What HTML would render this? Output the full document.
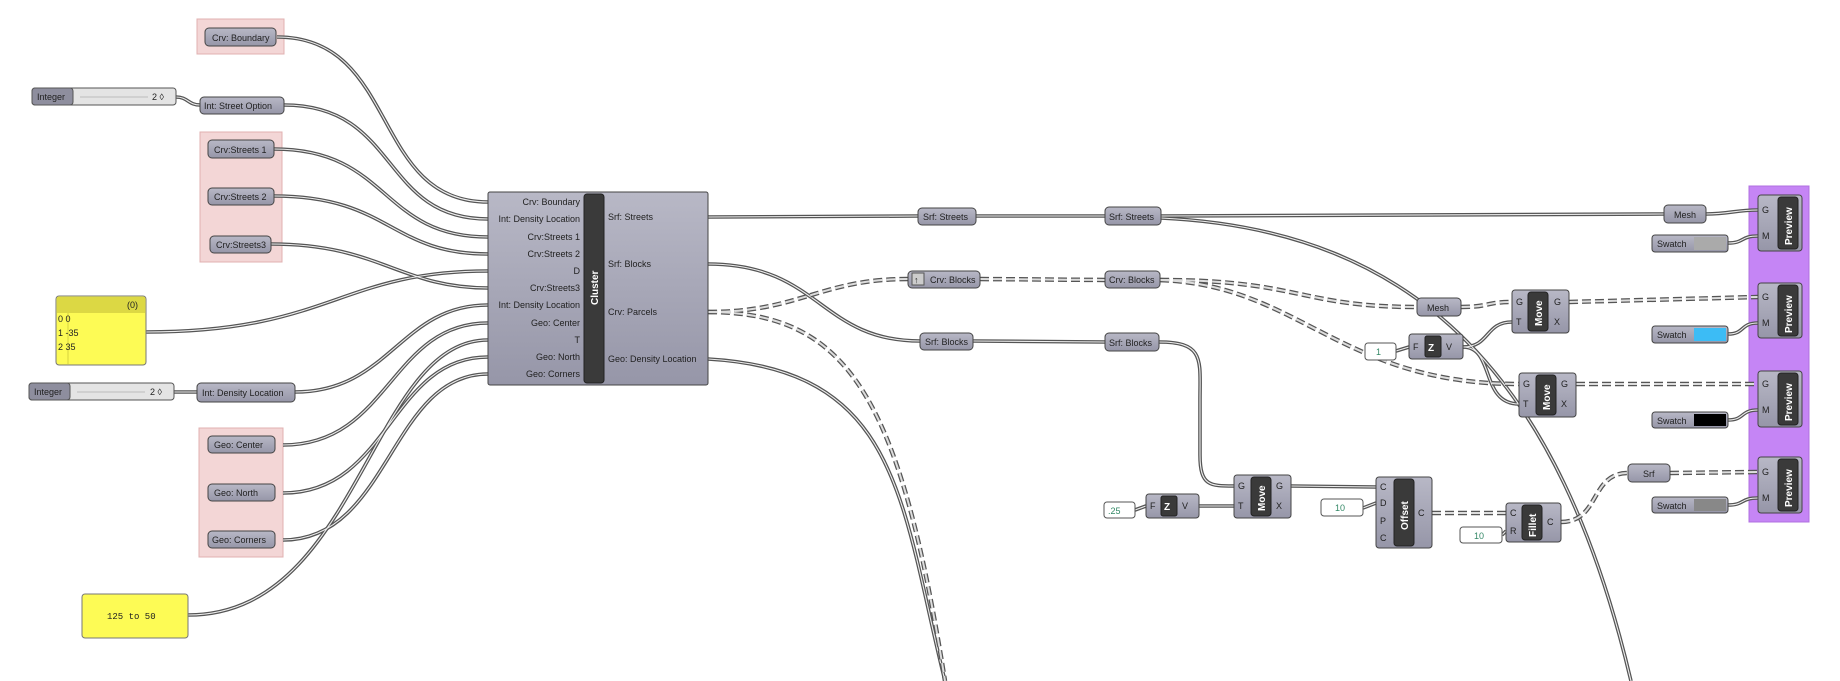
<!DOCTYPE html>
<html><head><meta charset="utf-8"><style>
html,body{margin:0;padding:0;background:#fff;}
svg{display:block;font-family:"Liberation Sans",sans-serif;}
.w{stroke:#555;stroke-width:3.6}
.wi{stroke:#eee;stroke-width:1.1}
.d{stroke:#555;stroke-width:4.5;stroke-dasharray:9 4}
.di{stroke:#ddd;stroke-width:2;stroke-dasharray:9 4}
.p{fill:url(#g);stroke:#444;stroke-width:1}
.t{font-size:9px;fill:#222}
.bar{fill:#3a3a3a;stroke:#222}
.vt{font-size:10px;font-weight:bold;fill:#fff}
</style></head><body>
<svg width="1840" height="681" viewBox="0 0 1840 681" xmlns="http://www.w3.org/2000/svg">
<defs>
<linearGradient id="g" x1="0" y1="0" x2="0" y2="1"><stop offset="0" stop-color="#b8b8c6"/><stop offset="1" stop-color="#9696a8"/></linearGradient>
<g id="solid" fill="none">
<path fill="none" d="M277 37 C400 37,370 202,488 202"/>
<path fill="none" d="M284 105 C400 105,380 219,488 219"/>
<path fill="none" d="M274 149 C390 149,380 237,488 237"/>
<path fill="none" d="M274 196 C390 196,390 254,488 254"/>
<path fill="none" d="M271 244 C380 244,400 288,488 288"/>
<path fill="none" d="M146 332 C330 332,340 271,488 271"/>
<path fill="none" d="M295 392 C390 392,400 305,488 305"/>
<path fill="none" d="M283 445 C390 445,390 323,488 323"/>
<path fill="none" d="M188 615 C360 615,370 340,488 340"/>
<path fill="none" d="M283 493 C390 493,390 357,488 357"/>
<path fill="none" d="M283 540 C390 540,390 374,488 374"/>
<path fill="none" d="M176 97 C188 97,188 105,200 105"/>
<path fill="none" d="M174 392 L197 392"/>
<path fill="none" d="M708 217 L918 216"/>
<path fill="none" d="M976 216 L1105 216"/>
<path fill="none" d="M1161 216 L1664 214"/>
<path fill="none" d="M1706 214 C1730 214,1735 210,1758 210"/>
<path fill="none" d="M1161 218 C1420 230,1560 380,1631 681"/>
<path fill="none" d="M708 264 C820 264,820 341,920 341"/>
<path fill="none" d="M973 341 L1105 342"/>
<path fill="none" d="M1159 342 C1205 342,1200 360,1200 400 L1200 455 C1200 486,1210 486,1234 486"/>
<path fill="none" d="M708 359 C900 370,900 500,945 681"/>
<path fill="none" d="M1463 347 C1490 347,1485 322,1512 322"/>
<path fill="none" d="M1463 347 C1495 347,1480 404,1519 404"/>
<path fill="none" d="M1396 351 L1409 347"/>
<path fill="none" d="M1135 510 L1146 506"/>
<path fill="none" d="M1199 506 L1234 506"/>
<path fill="none" d="M1291 486 L1376 487"/>
<path fill="none" d="M1363 508 L1376 503"/>
<path fill="none" d="M1502 535 L1506 531"/>
<path fill="none" d="M1728 243 C1745 243,1740 236,1758 236"/>
<path fill="none" d="M1728 334 C1745 334,1740 323,1758 323"/>
<path fill="none" d="M1728 420 C1745 420,1740 410,1758 410"/>
<path fill="none" d="M1728 505 C1745 505,1740 498,1758 498"/>
</g>
<g id="dash" fill="none">
<path fill="none" d="M708 312 C800 312,820 279,908 279"/>
<path fill="none" d="M708 312 C850 312,900 400,945 681"/>
<path fill="none" d="M980 279 L1105 280"/>
<path fill="none" d="M1160 280 C1300 280,1300 307,1417 307"/>
<path fill="none" d="M1160 280 C1300 285,1340 384,1519 384"/>
<path fill="none" d="M1461 307 C1490 307,1485 302,1512 302"/>
<path fill="none" d="M1569 302 L1758 297"/>
<path fill="none" d="M1576 384 L1758 384"/>
<path fill="none" d="M1432 513 L1506 513"/>
<path fill="none" d="M1561 522 C1600 522,1590 473,1628 473"/>
<path fill="none" d="M1670 473 L1758 472"/>
</g>
</defs>
<!-- groups -->
<rect x="197" y="19" width="87" height="35" fill="#f3d6d6" stroke="#e0b0b0"/>
<rect x="200" y="132" width="82" height="130" fill="#f3d6d6" stroke="#e0b0b0"/>
<rect x="199" y="428" width="84" height="129" fill="#f3d6d6" stroke="#e0b0b0"/>
<rect x="1749" y="186" width="60" height="336" fill="#c585f5" stroke="#b070e0"/>

<use href="#solid" class="w"/>
<use href="#solid" class="wi"/>
<use href="#dash" class="d"/>
<use href="#dash" class="di"/>

<!-- left params -->
<g class="t">
<rect class="p" x="205" y="28" width="71" height="18" rx="4"/><text x="212" y="41">Crv: Boundary</text>
<rect x="32" y="88" width="144" height="17" rx="3" fill="#e4e4e4" stroke="#555"/><rect x="32" y="88" width="41" height="17" rx="3" fill="#8e8e9e" stroke="#555"/><text x="37" y="100">Integer</text><text x="152" y="100">2 ◊</text>
<line x1="80" y1="97" x2="148" y2="97" stroke="#bbb"/>
<rect class="p" x="200" y="97" width="84" height="17" rx="4"/><text x="204" y="109">Int: Street Option</text>
<rect class="p" x="208" y="140" width="66" height="18" rx="4"/><text x="214" y="153">Crv:Streets 1</text>
<rect class="p" x="208" y="188" width="66" height="17" rx="4"/><text x="214" y="200">Crv:Streets 2</text>
<rect class="p" x="210" y="236" width="61" height="17" rx="4"/><text x="216" y="248">Crv:Streets3</text>
<rect x="56" y="296" width="90" height="69" rx="3" fill="#fdfb55" stroke="#777"/>
<rect x="57" y="297" width="88" height="16" fill="#dcd844"/>
<line x1="68" y1="313" x2="68" y2="364" stroke="#d6d340"/>
<text x="127" y="308">(0)</text><text x="58" y="322">0 0</text><text x="58" y="336">1 -35</text><text x="58" y="350">2 35</text>
<rect x="29" y="383" width="145" height="17" rx="3" fill="#e4e4e4" stroke="#555"/><rect x="29" y="383" width="41" height="17" rx="3" fill="#8e8e9e" stroke="#555"/><text x="34" y="395">Integer</text><text x="150" y="395">2 ◊</text>
<line x1="77" y1="392" x2="145" y2="392" stroke="#bbb"/>
<rect class="p" x="197" y="383" width="98" height="19" rx="4"/><text x="202" y="396">Int: Density Location</text>
<rect class="p" x="208" y="436" width="67" height="17" rx="4"/><text x="214" y="448">Geo: Center</text>
<rect class="p" x="208" y="484" width="67" height="17" rx="4"/><text x="214" y="496">Geo: North</text>
<rect class="p" x="208" y="531" width="67" height="17" rx="4"/><text x="212" y="543">Geo: Corners</text>
<rect x="82" y="594" width="106" height="44" rx="3" fill="#fdfb55" stroke="#777"/><text x="107" y="619" font-family="Liberation Mono,monospace">125 to 50</text>
</g>

<!-- cluster -->
<rect class="p" x="488" y="192" width="220" height="193" rx="2"/>
<rect class="bar" x="584" y="194" width="20" height="189" rx="3"/>
<text class="vt" transform="translate(598 305) rotate(-90)" font-size="11">Cluster</text>
<g class="t" text-anchor="end">
<text x="580" y="205">Crv: Boundary</text><text x="580" y="222">Int: Density Location</text>
<text x="580" y="240">Crv:Streets 1</text><text x="580" y="257">Crv:Streets 2</text>
<text x="580" y="274">D</text><text x="580" y="291">Crv:Streets3</text>
<text x="580" y="308">Int: Density Location</text><text x="580" y="326">Geo: Center</text>
<text x="580" y="343">T</text><text x="580" y="360">Geo: North</text><text x="580" y="377">Geo: Corners</text>
</g>
<g class="t">
<text x="608" y="220">Srf: Streets</text><text x="608" y="267">Srf: Blocks</text>
<text x="608" y="315">Crv: Parcels</text><text x="608" y="362">Geo: Density Location</text>
</g>

<!-- middle params -->
<g class="t">
<rect class="p" x="918" y="208" width="58" height="17" rx="4"/><text x="923" y="220">Srf: Streets</text>
<rect class="p" x="1105" y="207" width="56" height="18" rx="4"/><text x="1109" y="220">Srf: Streets</text>
<rect class="p" x="908" y="271" width="72" height="17" rx="4"/><rect x="912" y="273" width="12" height="12" fill="#ccc" stroke="#555"/><text x="914" y="283">↑</text><text x="930" y="283">Crv: Blocks</text>
<rect class="p" x="1105" y="271" width="55" height="17" rx="4"/><text x="1109" y="283">Crv: Blocks</text>
<rect class="p" x="920" y="333" width="53" height="17" rx="4"/><text x="925" y="345">Srf: Blocks</text>
<rect class="p" x="1105" y="333" width="54" height="18" rx="4"/><text x="1109" y="346">Srf: Blocks</text>
<rect class="p" x="1664" y="205" width="42" height="18" rx="4"/><text x="1674" y="218">Mesh</text>
<rect class="p" x="1417" y="298" width="44" height="18" rx="4"/><text x="1427" y="311">Mesh</text>
<rect class="p" x="1628" y="464" width="42" height="18" rx="4"/><text x="1643" y="477">Srf</text>
<rect x="1365" y="343" width="31" height="17" rx="3" fill="#fff" stroke="#555"/><text x="1376" y="355" fill="#386">1</text>
<rect x="1104" y="502" width="31" height="16" rx="3" fill="#fff" stroke="#555"/><text x="1108" y="514" fill="#386">.25</text>
<rect x="1321" y="499" width="42" height="17" rx="3" fill="#fff" stroke="#555"/><text x="1335" y="511" fill="#386">10</text>
<rect x="1460" y="527" width="42" height="16" rx="3" fill="#fff" stroke="#555"/><text x="1474" y="539" fill="#386">10</text>
</g>
<g class="t">
<rect class="p" x="1409" y="334" width="54" height="25" rx="3"/><rect class="bar" x="1425" y="336" width="16" height="21" rx="2"/><text class="vt" x="1428" y="351">Z</text><text x="1413" y="350">F</text><text x="1446" y="350">V</text>
<rect class="p" x="1146" y="494" width="53" height="24" rx="3"/><rect class="bar" x="1161" y="496" width="16" height="20" rx="2"/><text class="vt" x="1164" y="510">Z</text><text x="1150" y="509">F</text><text x="1182" y="509">V</text>
</g>
<g class="t">
<rect class="p" x="1512" y="290" width="57" height="43" rx="3"/><rect class="bar" x="1528" y="292" width="20" height="39" rx="3"/><text class="vt" transform="translate(1542 326) rotate(-90)">Move</text><text x="1516" y="305">G</text><text x="1516" y="325">T</text><text x="1554" y="305">G</text><text x="1554" y="325">X</text>
<rect class="p" x="1519" y="373" width="57" height="44" rx="3"/><rect class="bar" x="1536" y="375" width="20" height="40" rx="3"/><text class="vt" transform="translate(1550 410) rotate(-90)">Move</text><text x="1523" y="387">G</text><text x="1523" y="407">T</text><text x="1561" y="387">G</text><text x="1561" y="407">X</text>
<rect class="p" x="1234" y="475" width="57" height="43" rx="3"/><rect class="bar" x="1251" y="477" width="20" height="39" rx="3"/><text class="vt" transform="translate(1265 511) rotate(-90)">Move</text><text x="1238" y="489">G</text><text x="1238" y="509">T</text><text x="1276" y="489">G</text><text x="1276" y="509">X</text>
<rect class="p" x="1376" y="477" width="56" height="71" rx="3"/><rect class="bar" x="1394" y="479" width="20" height="67" rx="3"/><text class="vt" transform="translate(1408 530) rotate(-90)">Offset</text><text x="1380" y="490">C</text><text x="1380" y="506">D</text><text x="1380" y="524">P</text><text x="1380" y="541">C</text><text x="1418" y="516">C</text>
<rect class="p" x="1506" y="503" width="55" height="39" rx="3"/><rect class="bar" x="1522" y="505" width="20" height="35" rx="3"/><text class="vt" transform="translate(1536 537) rotate(-90)">Fillet</text><text x="1510" y="516">C</text><text x="1510" y="534">R</text><text x="1547" y="525">C</text>
</g>
<g class="t">
<rect class="p" x="1758" y="195" width="44" height="56" rx="3"/><rect class="bar" x="1778" y="197" width="20" height="52" rx="3"/><text class="vt" transform="translate(1792 245) rotate(-90)">Preview</text><text x="1762" y="213">G</text><text x="1762" y="239">M</text>
<rect class="p" x="1758" y="283" width="44" height="55" rx="3"/><rect class="bar" x="1778" y="285" width="20" height="51" rx="3"/><text class="vt" transform="translate(1792 333) rotate(-90)">Preview</text><text x="1762" y="300">G</text><text x="1762" y="326">M</text>
<rect class="p" x="1758" y="371" width="44" height="56" rx="3"/><rect class="bar" x="1778" y="373" width="20" height="52" rx="3"/><text class="vt" transform="translate(1792 421) rotate(-90)">Preview</text><text x="1762" y="387">G</text><text x="1762" y="413">M</text>
<rect class="p" x="1758" y="457" width="44" height="56" rx="3"/><rect class="bar" x="1778" y="459" width="20" height="52" rx="3"/><text class="vt" transform="translate(1792 507) rotate(-90)">Preview</text><text x="1762" y="475">G</text><text x="1762" y="501">M</text>
<rect class="p" x="1652" y="235" width="76" height="17" rx="3"/><rect x="1694" y="237" width="32" height="13" fill="#aaa"/><text x="1657" y="247">Swatch</text>
<rect class="p" x="1652" y="326" width="76" height="17" rx="3"/><rect x="1694" y="328" width="32" height="13" fill="#3cbcf5"/><text x="1657" y="338">Swatch</text>
<rect class="p" x="1652" y="412" width="76" height="16" rx="3"/><rect x="1694" y="414" width="32" height="12" fill="#000"/><text x="1657" y="424">Swatch</text>
<rect class="p" x="1652" y="497" width="76" height="16" rx="3"/><rect x="1694" y="499" width="32" height="12" fill="#888"/><text x="1657" y="509">Swatch</text>
</g>
</svg>
</body></html>
